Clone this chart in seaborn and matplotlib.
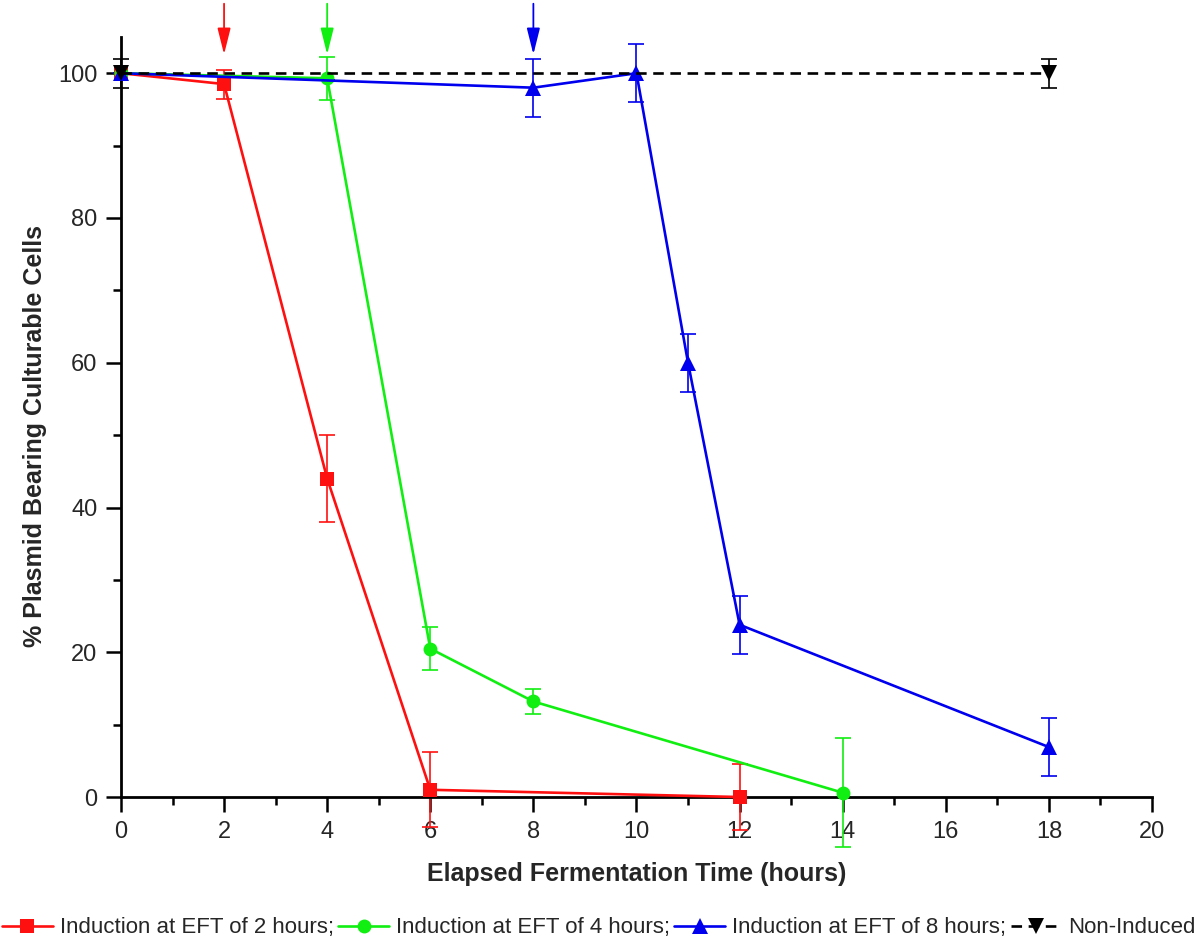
import numpy as np
import pandas as pd
import matplotlib
matplotlib.use("Agg")
import matplotlib.pyplot as plt
import seaborn as sns

# =============================
# DATA
# =============================
t_2h = [0, 2, 4, 6, 12]
y_2h = [100, 98.5, 44, 1, 0]
e_2h = [0, 2, 6, 5.2, 4.6]

t_4h = [0, 4, 6, 8, 14]
y_4h = [100, 99.3, 20.5, 13.2, 0.6]
e_4h = [0, 3, 3, 1.7, 7.5]

t_8h = [0, 4, 8, 10, 11, 12, 18]
y_8h = [100, 99, 98, 100, 60, 23.8, 6.9]
e_8h = [0, 0, 4, 4, 4, 4, 4]

t_ni = [0, 18]
y_ni = [100, 100]
e_ni = [2, 2]

induction_times = [2, 4, 8]

labels = ["Induction at EFT of 2 hours;", "Induction at EFT of 4 hours;",
          "Induction at EFT of 8 hours;", "Non-Induced"]

# =============================
# STYLE
# =============================
sns.set_style("ticks")
plt.rcParams["font.family"] = ["Liberation Sans", "DejaVu Sans"]

fig = plt.figure(figsize=(12, 9.42), dpi=100)
ax = fig.add_axes([0.1008, 0.1539, 0.8592, 0.8068])

# (x, y, err, colour, marker, size, linestyle, which points get a marker)
series = [
    (t_2h, y_2h, e_2h, "#ff1010", "s", 9.5, "-", None),
    (t_4h, y_4h, e_4h, "#11ee11", "o", 10, "-", None),
    (t_8h, y_8h, e_8h, "#0000ee", "^", 11.5, "-", [0, 2, 3, 4, 5, 6]),
    (t_ni, y_ni, e_ni, "black", "v", 11.5, "--", None),
]

for (t, y, e, col, mk, ms, ls, mev), lab in zip(series, labels):
    df = pd.DataFrame({"t": t, "y": y, "e": e})
    # error bars
    ax.errorbar(df["t"], df["y"], yerr=df["e"], fmt="none", ecolor=col,
                elinewidth=1.2, capsize=6, capthick=1.2, clip_on=False, zorder=2)
    kw = dict(color=col, marker=mk, markersize=ms, markeredgewidth=0,
              linewidth=1.9, label=lab, ax=ax, clip_on=False, zorder=3)
    if ls == "--":
        kw["dashes"] = (4, 2.5)
    if mev is not None:
        kw["markevery"] = mev
    sns.lineplot(data=df, x="t", y="y", **kw)

# arrows marking induction times
for tt, col in zip(induction_times, ["#ff1010", "#11ee11", "#0000ee"]):
    ax.annotate("", xy=(tt, 102.6), xytext=(tt, 109.6),
                arrowprops=dict(arrowstyle="-|>,head_length=0.8,head_width=0.2",
                                color=col, lw=1.3, mutation_scale=20,
                                shrinkA=0, shrinkB=0),
                annotation_clip=False)

# =============================
# AXES
# =============================
ax.set_xlim(0, 20)
ax.set_ylim(0, 105)
ax.set_xticks(np.arange(0, 21, 2))
ax.set_xticks(np.arange(1, 20, 2), minor=True)
ax.set_yticks(np.arange(0, 101, 20))
ax.set_yticks(np.arange(10, 100, 20), minor=True)
ax.tick_params(axis="both", which="major", direction="out", length=11,
               width=1.8, labelsize=17, pad=6, color="black")
ax.tick_params(axis="both", which="minor", direction="out", length=5.5,
               width=1.8, color="black")

for side in ["top", "right"]:
    ax.spines[side].set_visible(False)
for side in ["left", "bottom"]:
    ax.spines[side].set_linewidth(2)
    ax.spines[side].set_color("black")

ax.set_xlabel("Elapsed Fermentation Time (hours)", fontsize=18,
              fontweight="bold", labelpad=14)
ax.set_ylabel("% Plasmid Bearing Culturable Cells", fontsize=18,
              fontweight="bold")
ax.yaxis.set_label_coords(-0.072, 0.475)

# legend along the bottom
handles, labs = ax.get_legend_handles_labels()
if ax.get_legend() is not None:
    ax.get_legend().remove()
fig.legend(handles, labs, loc="center", bbox_to_anchor=(0.499, 0.015),
           ncol=4, frameon=False, fontsize=16, handlelength=2.3,
           handletextpad=0.3, columnspacing=0.2, borderaxespad=0)

plt.savefig("out.png", dpi=100)
